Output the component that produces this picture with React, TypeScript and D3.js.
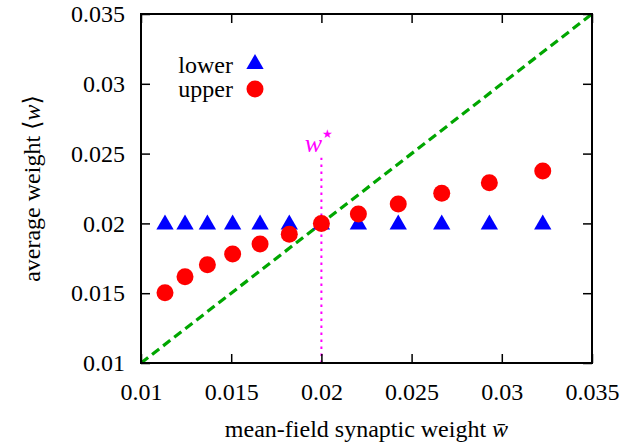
import React, { useEffect, useRef } from "react";
import * as d3 from "d3";

// mean-field weight (x) and the two branches of the average weight
const wBar = [0.01133, 0.01244, 0.01368, 0.01508, 0.0166, 0.01822, 0.02, 0.02205, 0.02426, 0.02667, 0.02931, 0.03227];
const lowerVals = [0.02, 0.02, 0.02, 0.02, 0.02, 0.02, 0.02, 0.02, 0.02, 0.02, 0.02, 0.02];
const upperVals = [0.01504, 0.01618, 0.01704, 0.01781, 0.01852, 0.01922, 0.02, 0.02067, 0.02139, 0.02216, 0.02292, 0.02375];
const diagonal = [0.01, 0.035];
const wStar = 0.02;
const wStarTop = 0.0247;
const xTicks = [0.01, 0.015, 0.02, 0.025, 0.03, 0.035];
const yTicks = [0.01, 0.015, 0.02, 0.025, 0.03, 0.035];

const App = () => {
  const width = 636;
  const height = 447;
  const MARGIN = { top: 14, right: 44, bottom: 84, left: 141 };
  const boundsWidth = width - MARGIN.left - MARGIN.right;
  const boundsHeight = height - MARGIN.top - MARGIN.bottom;
  const font = "Liberation Serif, DejaVu Serif, Times New Roman, serif";

  const axesRef = useRef(null);

  const xScale = d3.scaleLinear().domain([0.01, 0.035]).range([0, boundsWidth]);
  const yScale = d3.scaleLinear().domain([0.01, 0.035]).range([boundsHeight, 0]);

  useEffect(() => {
    const g = d3.select(axesRef.current);
    g.selectAll("*").remove();
    const fmt = (d) => String(d);

    const bottom = g.append("g")
      .attr("transform", `translate(0,${boundsHeight})`)
      .call(d3.axisBottom(xScale).tickValues(xTicks).tickFormat(fmt).tickSizeInner(-9).tickSizeOuter(0).tickPadding(20));
    const left = g.append("g")
      .call(d3.axisLeft(yScale).tickValues(yTicks).tickFormat(fmt).tickSizeInner(-9).tickSizeOuter(0).tickPadding(16));
    const top = g.append("g")
      .call(d3.axisTop(xScale).tickValues(xTicks).tickFormat(() => "").tickSizeInner(-9).tickSizeOuter(0));
    const right = g.append("g")
      .attr("transform", `translate(${boundsWidth},0)`)
      .call(d3.axisRight(yScale).tickValues(yTicks).tickFormat(() => "").tickSizeInner(-9).tickSizeOuter(0));

    [bottom, left, top, right].forEach((a) => {
      a.attr("font-family", null).attr("font-size", null);
      a.select(".domain").remove();
      a.selectAll(".tick line").attr("stroke", "#000").attr("stroke-width", 1.5);
      a.selectAll(".tick text")
        .style("font-family", font)
        .style("font-size", "24px")
        .attr("fill", "#000");
    });
  }, []);

  const diagLine = d3.line()
    .x((d) => xScale(d))
    .y((d) => yScale(d))(diagonal);

  const triangle = d3.symbol(d3.symbolTriangle, 130)();
  const txt = { fontFamily: font, fontSize: "24px" };

  return (
    <div style={{ position: "absolute", left: 0, top: 0 }}>
      <svg width={width} height={height} style={{ display: "block", background: "#fff" }}>
        <g transform={`translate(${MARGIN.left},${MARGIN.top})`}>
          <path d={diagLine} stroke="#00a600" strokeWidth={3.2} strokeDasharray="9,5" fill="none" />
          <line
            x1={xScale(wStar)} x2={xScale(wStar)}
            y1={yScale(0.01)} y2={yScale(wStarTop)}
            stroke="#ff00ff" strokeWidth={2} strokeDasharray="2.5,4.5"
          />
          <text x={xScale(wStar) - 8} y={yScale(wStarTop) - 6} fill="#ff00ff"
            style={{ ...txt, fontSize: "26px", fontStyle: "italic" }} textAnchor="middle">w</text>
          <text x={xScale(wStar) + 6} y={yScale(wStarTop) - 20} fill="#ff00ff"
            style={{ fontFamily: "DejaVu Sans, sans-serif", fontSize: "12px" }} textAnchor="middle">★</text>

          {wBar.map((w, i) => (
            <path key={"t" + i} d={triangle} fill="#0000ff"
              transform={`translate(${xScale(w)},${yScale(lowerVals[i]) + 1})`} />
          ))}
          {wBar.map((w, i) => (
            <circle key={"c" + i} cx={xScale(w)} cy={yScale(upperVals[i])} r={8.5} fill="#ff0000" />
          ))}

          {/* legend */}
          <text x={92} y={59} style={txt} textAnchor="end">lower</text>
          <path d={triangle} fill="#0000ff" transform="translate(114,50)" />
          <text x={92} y={83} style={txt} textAnchor="end">upper</text>
          <circle cx={114} cy={75} r={8.5} fill="#ff0000" />

          <g ref={axesRef} />
          <rect x={0} y={0} width={boundsWidth} height={boundsHeight} fill="none" stroke="#000" strokeWidth={2} />
        </g>

        <text
          transform={`translate(40,${MARGIN.top + boundsHeight / 2}) rotate(-90)`}
          textAnchor="middle" style={txt}
        >
          average weight ⟨<tspan fontStyle="italic">w</tspan>⟩
        </text>
        <text x={MARGIN.left + boundsWidth / 2} y={437} textAnchor="middle" style={txt}>
          mean-field synaptic weight <tspan fontStyle="italic">{"w\u0304"}</tspan>
        </text>
      </svg>
    </div>
  );
};

export default App;
